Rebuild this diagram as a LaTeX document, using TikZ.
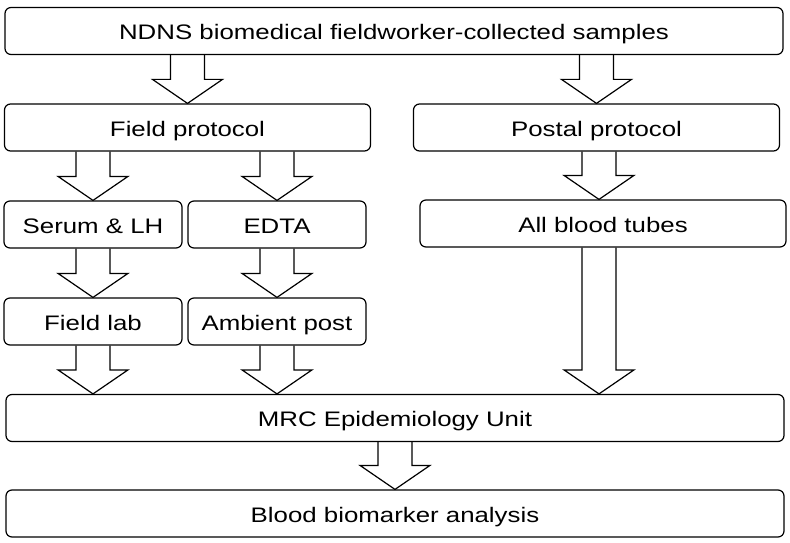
\documentclass[tikz,border=0pt]{standalone}
\usepackage{fontspec}
\setmainfont{Liberation Sans}[FakeStretch=1.23]
\usetikzlibrary{calc}
\tikzset{
    flowbox/.style={draw=black, line width=1.2pt, rounded corners=6pt, inner sep=0pt,
        minimum height=47pt, font=\fontsize{21}{25}\selectfont, text=black,
        text height=19pt, text depth=1.7pt},
    widebox/.style={flowbox, minimum width=778pt},
    halfbox/.style={flowbox, minimum width=366pt},
    smallbox/.style={flowbox, minimum width=178pt},
    hollowarrow/.style={draw=black, line width=1.2pt, line join=miter},
}
% block arrow: #1 from, #2 to, #3 node or coordinate giving the x of the shaft
\newcommand{\blockarrow}[3]{%
    \draw[hollowarrow] let \p1=(#1.south -| #3), \p2=(#2.north -| #3) in
        (\x1-17pt,\y1) -- (\x1-17pt,\y2+24pt) -- (\x1-35pt,\y2+24pt) -- (\x2,\y2)
        -- (\x1+35pt,\y2+24pt) -- (\x1+17pt,\y2+24pt) -- (\x1+17pt,\y1);
}
\begin{document}
\begin{tikzpicture}[x=1pt, y=-1pt]
    \useasboundingbox (0,0) rectangle (790,543);
    \node[widebox]  (ndns)     at (394,31)    {NDNS biomedical fieldworker-collected samples};
    \node[halfbox]  (field)    at (187.5,127.5) {Field protocol};
    \node[halfbox]  (postal)   at (596.5,127.5) {Postal protocol};
    \node[smallbox] (serum)    at (93,224.5)  {Serum \& LH};
    \node[smallbox] (edta)     at (277,224.5) {EDTA};
    \node[halfbox]  (tubes)    at (603,223.5) {All blood tubes};
    \node[smallbox] (fieldlab) at (93,321.5)  {Field lab};
    \node[smallbox] (ambient)  at (277,321.5) {Ambient post};
    \node[widebox]  (mrc)      at (395,418)   {MRC Epidemiology Unit};
    \node[widebox]  (blood)    at (395,513.5) {Blood biomarker analysis};
    \coordinate (postline) at (599,0);
    % arrows
    \blockarrow{ndns}{field}{field}
    \blockarrow{ndns}{postal}{postal}
    \blockarrow{field}{serum}{serum}
    \blockarrow{field}{edta}{edta}
    \blockarrow{postal}{tubes}{postline}
    \blockarrow{serum}{fieldlab}{fieldlab}
    \blockarrow{edta}{ambient}{ambient}
    \blockarrow{fieldlab}{mrc}{fieldlab}
    \blockarrow{ambient}{mrc}{ambient}
    \blockarrow{tubes}{mrc}{postline}
    \blockarrow{mrc}{blood}{blood}
\end{tikzpicture}
\end{document}
